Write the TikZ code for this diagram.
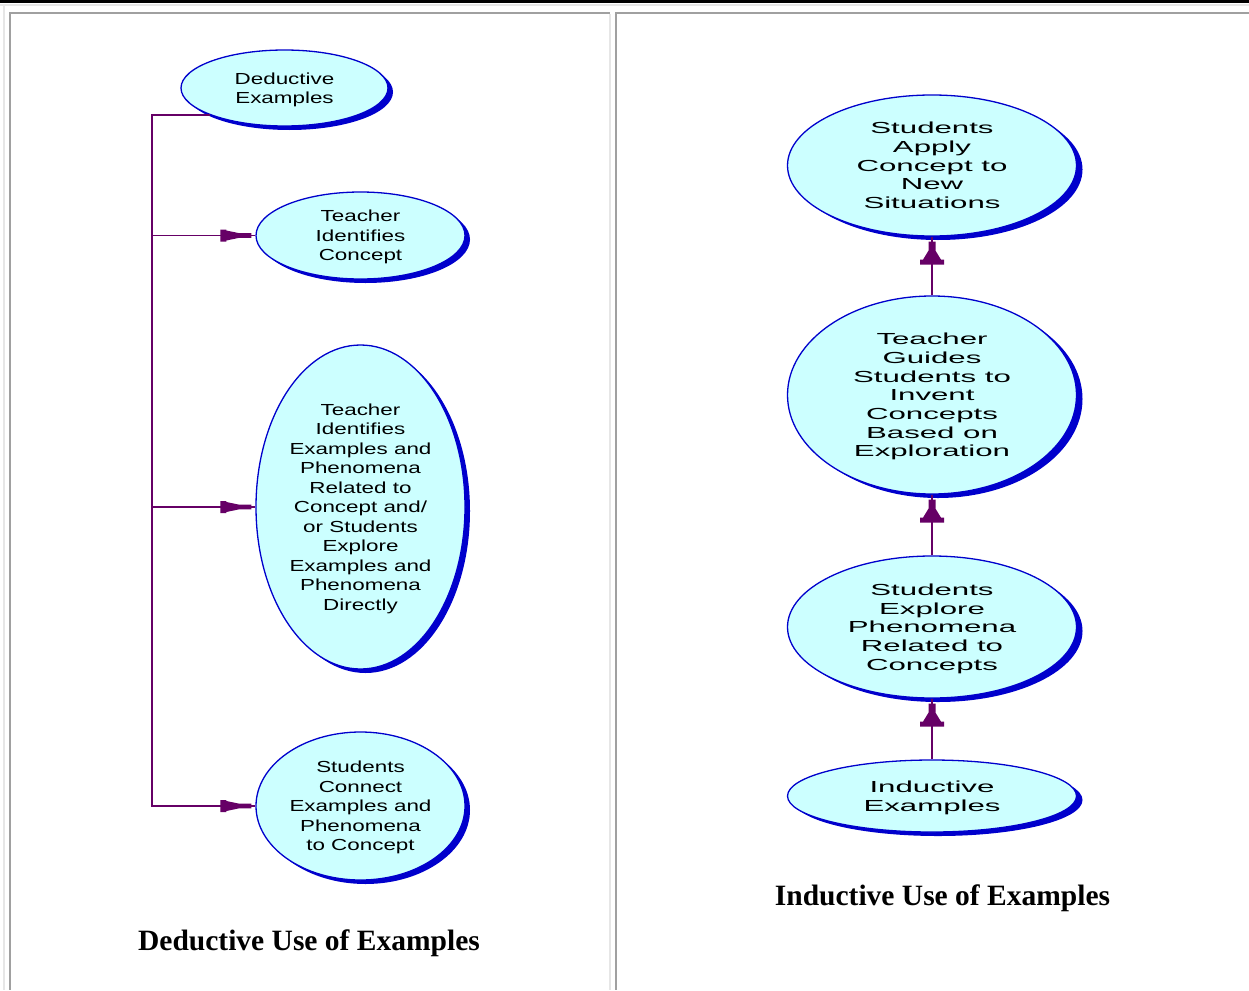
\documentclass[tikz,border=0pt]{standalone}
\usepackage{fontspec}
\setmainfont{Liberation Serif}
\newfontfamily\lfont[FakeStretch=1.4]{Liberation Sans}
\newfontfamily\rfont[FakeStretch=1.95]{Liberation Sans}
\usetikzlibrary{shapes.geometric,shadows}
\definecolor{cyanfill}{HTML}{CCFFFF}
\definecolor{eblue}{HTML}{0000CC}
\definecolor{conc}{HTML}{660066}
\definecolor{lgray}{HTML}{E6E6E6}
\definecolor{dgray}{HTML}{A0A0A0}
\tikzset{
  bubble/.style={ellipse, draw=eblue, line width=1.3pt, fill=cyanfill, inner sep=0pt, align=center, text=black, text depth=0pt},
  lbub/.style={bubble, font=\lfont\fontsize{16}{19.5}\selectfont,
     general shadow={fill=eblue, shadow xshift=5pt, shadow yshift=-4pt}},
  rbub/.style={bubble, font=\rfont\fontsize{16}{18.7}\selectfont,
     general shadow={fill=eblue, shadow xshift=6pt, shadow yshift=-4pt}},
  conn/.style={draw=conc, line width=1.8pt},
  titletext/.style={font=\bfseries\fontsize{29.5}{34}\selectfont, anchor=base, inner sep=0pt},
  headR/.pic={\fill[conc] (-4,-2.3) -- (-16,-2.3) -- (-29,-5) -- (-29,-6) -- (-35,-6) -- (-35,6) -- (-29,6) -- (-29,5) -- (-16,2.3) -- (-4,2.3) -- cycle;},
  headU/.pic={\fill[conc] (-3.5,5) -- (3.5,5) -- (3.5,14) -- (9,23) -- (12,23) -- (12,28) -- (-12,28) -- (-12,23) -- (-9,23) -- (-3.5,14) -- cycle;}
}
\begin{document}
\begin{tikzpicture}[x=1pt,y=-1pt]
\useasboundingbox (0,0) rectangle (1249,990);
\fill[white] (0,0) rectangle (1249,990);
% table frame
\fill[black] (0,0) rectangle (1249,3.5);
\fill[lgray] (0,4.5) rectangle (1249,6.5);
\fill[lgray] (2.5,4.5) rectangle (4.5,990);
\fill[dgray] (8.5,12) rectangle (610,14);
\fill[dgray] (8.5,12) rectangle (10.5,990);
\fill[lgray] (609,14) rectangle (611,990);
\fill[dgray] (615,12) rectangle (1249,14);
\fill[dgray] (615,12) rectangle (617,990);

% left diagram
\node[lbub, minimum width=207pt, minimum height=76pt] (L1) at (284.5,88) {Deductive\\Examples};
\node[lbub, minimum width=209pt, minimum height=87pt] (L2) at (360.5,235.5) {Teacher\\Identifies\\Concept};
\node[lbub, minimum width=209pt, minimum height=324pt] (L3) at (360.5,507) {Teacher\\Identifies\\Examples and\\Phenomena\\Related to\\Concept and/\\or Students\\Explore\\Examples and\\Phenomena\\Directly};
\node[lbub, minimum width=209pt, minimum height=148pt] (L4) at (360.5,806) {Students\\Connect\\Examples and\\Phenomena\\to Concept};

\coordinate (trunk) at (152,0);
\draw[conn] (L1.200) -- (L1.200 -| trunk) |- (L4.west);
\draw[conn] (L2.west -| trunk) -- (L2.west);
\draw[conn] (L3.west -| trunk) -- (L3.west);
\pic at (L2.west) {headR};
\pic at (L3.west) {headR};
\pic at (L4.west) {headR};

% right diagram
\node[rbub, minimum width=289pt, minimum height=141pt] (R1) at (932,165.5) {Students\\Apply\\Concept to\\New\\Situations};
\node[rbub, minimum width=289pt, minimum height=198pt] (R2) at (932,395) {Teacher\\Guides\\Students to\\Invent\\Concepts\\Based on\\Exploration};
\node[rbub, minimum width=289pt, minimum height=142pt] (R3) at (932,627) {Students\\Explore\\Phenomena\\Related to\\Concepts};
\node[rbub, minimum width=289pt, minimum height=72pt] (R4) at (932,796) {Inductive\\Examples};

\draw[conn] (R2.north) -- (R1.south);
\draw[conn] (R3.north) -- (R2.south);
\draw[conn] (R4.north) -- (R3.south);
\pic at (R1.south) {headU};
\pic at (R2.south) {headU};
\pic at (R3.south) {headU};

% titles
\node[titletext] (T1) at (309,950) {Deductive Use of Examples};
\node[titletext] (T2) at (942.5,905.5) {Inductive Use of Examples};
\end{tikzpicture}
\end{document}
